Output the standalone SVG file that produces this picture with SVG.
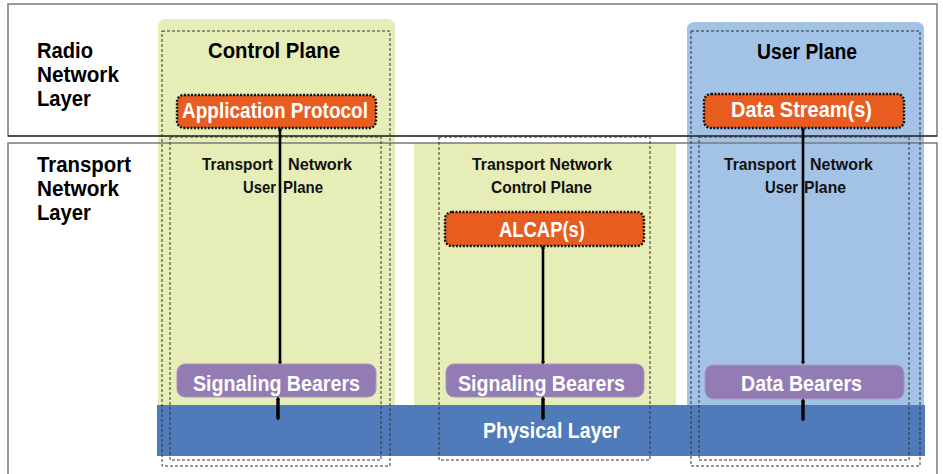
<svg xmlns="http://www.w3.org/2000/svg" width="943" height="474" viewBox="0 0 943 474">
<style>
text{font-family:"Liberation Sans",Arial,sans-serif;font-weight:bold}
.lbl{font-size:22px;fill:#000}
.head{font-size:22px;fill:#000;text-anchor:middle}
.sub{font-size:17px;fill:#111;text-anchor:middle}
.wt{font-size:22.5px;fill:#fff;text-anchor:middle}
.green{fill:#e6edb7}
.blue{fill:#a2c2e6}
.phys{fill:#4f7bbb}
.orange{fill:#e85c1f;stroke:#111;stroke-width:2.4;stroke-dasharray:2 1.5}
.purple{fill:#937cb4;stroke:#a798c6;stroke-width:1}
.dash{fill:none;stroke:#333;stroke-width:1;stroke-dasharray:3 2}
.layer{fill:none;stroke:#7a7a7a;stroke-width:1.5}
.conn{stroke:#000;stroke-width:2.6;fill:none}
.short{stroke:#000;stroke-width:3.4;fill:none}
</style>
<defs>
<marker id="tip" markerUnits="userSpaceOnUse" markerWidth="8" markerHeight="8" refX="4" refY="4" orient="auto">
<path d="M1.5,4 L4,2 L6.5,4 L4,6 Z" fill="#000"/>
</marker>
</defs>
<rect width="943" height="474" fill="#fff"/>
<g id="columns">
<path id="control-plane-bg" class="green" d="M158,405 V27 Q158,19 166,19 H387 Q395,19 395,27 V405 Z"/>
<rect id="tn-control-plane-bg" class="green" x="414" y="143" width="262" height="262"/>
<path id="user-plane-bg" class="blue" d="M687,405 V30 Q687,22 695,22 H916 Q924,22 924,30 V405 Z"/>
</g>
<g id="physical-layer">
<rect class="phys" x="157" y="405" width="768" height="51"/>
<text class="wt" x="551.5" y="438" textLength="137" lengthAdjust="spacingAndGlyphs">Physical Layer</text>
</g>
<g id="layers">
<g id="radio-network-layer">
<rect class="layer" x="8" y="4" width="929" height="132"/>
<line x1="8" y1="136" x2="937" y2="136" stroke="#000" stroke-width="1"/>
<text class="lbl" x="37" y="58" textLength="56" lengthAdjust="spacingAndGlyphs">Radio</text>
<text class="lbl" x="37" y="82" textLength="82" lengthAdjust="spacingAndGlyphs">Network</text>
<text class="lbl" x="37" y="106" textLength="54" lengthAdjust="spacingAndGlyphs">Layer</text>
</g>
<g id="transport-network-layer">
<rect class="layer" x="8" y="143" width="929" height="345"/>
<text class="lbl" x="37" y="172" textLength="94" lengthAdjust="spacingAndGlyphs">Transport</text>
<text class="lbl" x="37" y="196" textLength="82" lengthAdjust="spacingAndGlyphs">Network</text>
<text class="lbl" x="37" y="220" textLength="54" lengthAdjust="spacingAndGlyphs">Layer</text>
</g>
</g>
<g id="control-plane">
<rect class="dash" x="162" y="31" width="228" height="435"/>
<text class="head" x="274" y="58" textLength="132" lengthAdjust="spacingAndGlyphs">Control Plane</text>
</g>
<g id="tn-user-plane-left">
<rect class="dash" x="170" y="137" width="211" height="323"/>
<text class="sub" y="170"><tspan x="237.5" textLength="71" lengthAdjust="spacingAndGlyphs">Transport</tspan><tspan x="320" textLength="64" lengthAdjust="spacingAndGlyphs">Network</tspan></text>
<text class="sub" y="193"><tspan x="259.5" textLength="33" lengthAdjust="spacingAndGlyphs">User</tspan><tspan x="303" textLength="40" lengthAdjust="spacingAndGlyphs">Plane</tspan></text>
</g>
<g id="tn-control-plane">
<rect class="dash" x="439" y="137" width="211" height="323"/>
<text class="sub" x="542" y="170" textLength="140" lengthAdjust="spacingAndGlyphs">Transport Network</text>
<text class="sub" x="541.5" y="193" textLength="101" lengthAdjust="spacingAndGlyphs">Control Plane</text>
</g>
<g id="user-plane">
<rect class="dash" x="691" y="31" width="229" height="435"/>
<text class="head" x="807" y="59" textLength="100" lengthAdjust="spacingAndGlyphs">User Plane</text>
</g>
<g id="tn-user-plane-right">
<rect class="dash" x="699" y="137" width="210" height="323"/>
<text class="sub" y="170"><tspan x="760" textLength="72" lengthAdjust="spacingAndGlyphs">Transport</tspan><tspan x="841.5" textLength="63" lengthAdjust="spacingAndGlyphs">Network</tspan></text>
<text class="sub" y="193"><tspan x="781.5" textLength="33" lengthAdjust="spacingAndGlyphs">User</tspan><tspan x="825" textLength="42" lengthAdjust="spacingAndGlyphs">Plane</tspan></text>
</g>
<g id="application-protocol">
<rect class="orange" x="177" y="95" width="199" height="33" rx="7"/>
<text class="wt" x="275" y="118" textLength="186" lengthAdjust="spacingAndGlyphs">Application Protocol</text>
</g>
<g id="alcap">
<rect class="orange" x="445" y="212" width="199" height="34" rx="7"/>
<text class="wt" x="542" y="237" textLength="86" lengthAdjust="spacingAndGlyphs">ALCAP(s)</text>
</g>
<g id="data-streams">
<rect class="orange" x="704" y="94" width="200" height="34" rx="7"/>
<text class="wt" x="801.5" y="117" textLength="141" lengthAdjust="spacingAndGlyphs">Data Stream(s)</text>
</g>
<g id="signaling-bearers-left">
<rect class="purple" x="177" y="364" width="199" height="33" rx="8"/>
<text class="wt" x="276.5" y="391" textLength="167" lengthAdjust="spacingAndGlyphs">Signaling Bearers</text>
</g>
<g id="signaling-bearers-middle">
<rect class="purple" x="446" y="364" width="198" height="33" rx="8"/>
<text class="wt" x="541.5" y="391" textLength="167" lengthAdjust="spacingAndGlyphs">Signaling Bearers</text>
</g>
<g id="data-bearers">
<rect class="purple" x="705" y="365" width="199" height="34" rx="8"/>
<text class="wt" x="801.5" y="391" textLength="121" lengthAdjust="spacingAndGlyphs">Data Bearers</text>
</g>
<g id="connectors">
<line class="conn" x1="280" y1="130" x2="280" y2="362" marker-start="url(#tip)" marker-end="url(#tip)"/>
<line class="short" x1="278" y1="399" x2="278" y2="418" marker-start="url(#tip)" marker-end="url(#tip)"/>
<line class="conn" x1="543" y1="248" x2="543" y2="362" marker-start="url(#tip)" marker-end="url(#tip)"/>
<line class="short" x1="543" y1="399" x2="543" y2="418" marker-start="url(#tip)" marker-end="url(#tip)"/>
<line class="conn" x1="803" y1="130" x2="803" y2="362" marker-start="url(#tip)" marker-end="url(#tip)"/>
<line class="short" x1="803" y1="401" x2="803" y2="419" marker-start="url(#tip)" marker-end="url(#tip)"/>
</g>
</svg>
